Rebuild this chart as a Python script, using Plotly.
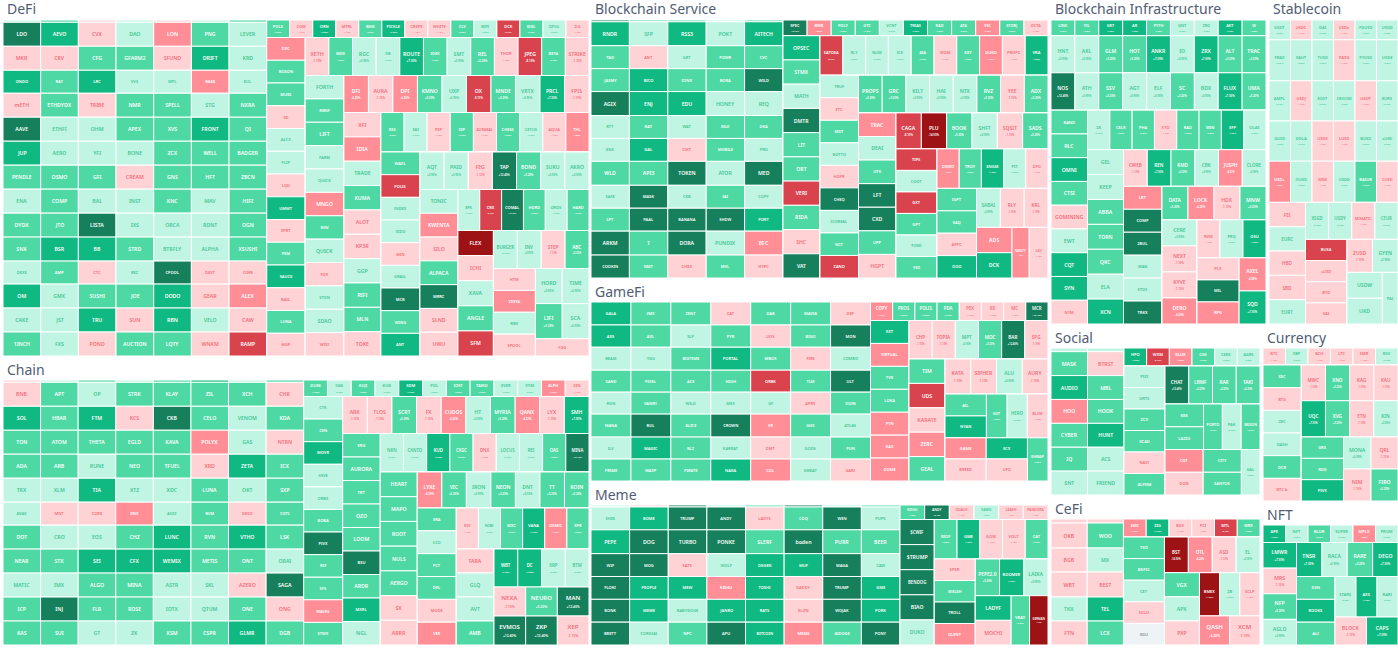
import plotly.graph_objects as go

# ---------- data: symbol/tier, strip by strip in reading order ----------
DEFI_CELLS = [
 "_/P _/M _/q _/P _/q _/P _/M",
 "LDO/D AEVO/G CVX/q DAO/P LON/s PNG/M LEVER/P",
 "MKR/q CRV/q CFG/M GFARM2/M SFUND/q DRIFT/G KRD/P",
 "ONDO/G RAY/M LRC/G VVS/P MPL/P BAKE/s EUL/P",
 "mETH/q ETHDYDX/M TRIBE/q NMR/M SPELL/M STG/P NXRA/M",
 "AAVE/D ETHFI/P OHM/P APEX/M XVS/M FRONT/G QI/M",
 "JUP/G AERO/P YFI/P BONE/P ZCX/M WELL/M BADGER/M",
 "PENDLE/M OSMO/M GFI/M CREAM/q GNS/M HFT/M ZBCN/M",
 "ENA/P COMP/M BAL/P INST/P KNC/M MAV/P HIFI/M",
 "DYDX/M JTO/M LISTA/D IXS/P ORCA/P RDNT/P OGN/M",
 "SNX/M BSR/G BB/G STRD/M BTRFLY/P ALPHA/P XSUSHI/M",
 "DEXE/P AMP/M CTC/q REZ/P CPOOL/D DEST/q CORE/q",
 "OM/G GMX/P SUSHI/M JOE/M DODO/G GEAR/q ALEX/s",
 "CAKE/P JST/P TRU/G SUN/q RBN/G VELO/P CAW/q",
 "1INCH/M FXS/P POND/q AUCTION/M LQTY/M WNXM/q RAMP/R",
 "POLS/M COW/q ORN/G MTRL/q BSW/M PICKLE/G CREPE/q WHITE/q CLV/M BIFI/P DCK/R IDEL/M OPUL/P DG/q",
 "DXC/s BOSON/M MUBI/M SD/q ALCX/P FLIP/P LQD/q UMMT/G XPRT/q PSM/M SAUCE/G BAIL/q LUNA/M MGP/q",
 "XETH/q MDX/M RGC/P XB/P ROUTE/G IDEX/M SMT/P REL/M THOR/q JPEG/R BETA/M STRIKE/q",
 "FORTH/P RBNF/M LIFT/M FARM/P QUICK/P MNGO/s BIW/M QUICK/P FOX/q STON/P SDAO/P WIXI/q",
 "DFI/s AURA/q DPI/s KMNO/M UXP/P OX/R MNDE/M VRTX/P PRCL/G FPIS/q",
 "XFI/q IDIA/s TRADE/P KUMA/M ALOT/q KP3R/q GGP/P RIFI/M MLN/M TOKE/q",
 "RSS/M SAI/P PSP/q ISP/M AURABAL/q CHESS/M CETUS/P AQUA/q THL/s",
 "WAXL/M POLIS/R INDEX/P XIDO/P MIN/q GRAIL/P MCB/D WING/M ANT/G",
 "AQT/P PAID/P FEG/q TAP/D BOND/M SUKU/P AKRO/P",
 "TONIC/P KWENTA/s SILO/q ALPACA/M MRRC/D SLND/q UWU/q",
 "EPS/P CRX/R COMAL/D HORD/M ORDS/P HARD/M",
 "FLEX/X ICHI/q XAVA/P ANGLE/M SFM/R",
 "BURGER/P INV/P STEP/q ABC/M",
 "HTM/q VIDYA/s RBX/P SPOOL/q",
 "HORD/P TIME/P",
 "LIFI/M SCA/P",
 "YGG/q",
]
CHAIN_CELLS = [
 "_/q _/P _/M _/P _/M _/G _/P _/M",
 "BNB/q APT/M OP/P STRK/M KLAY/M ZIL/M XCH/M CHR/q",
 "SOL/G HBAR/M FTM/G KCS/q CKB/D CELO/M VENOM/P KDA/M",
 "TON/M ATOM/M THETA/M EGLD/M KAVA/M POLYX/s GAS/P NTRN/q",
 "ADA/M ARB/M RUNE/P NEO/M TFUEL/M XRD/q ZETA/G ICX/M",
 "TRX/P XLM/P TIA/G XTZ/P XDC/P LUNA/M OKT/P SXP/M",
 "AVAX/P MNT/q CORE/q BNX/s AIOZ/P BVM/M DESO/q COTI/M",
 "DOT/M CRO/P EOS/P CHZ/M LUNC/G RVN/M VTHO/G LSK/M",
 "NEAR/M STX/M SEI/G CFX/G WEMIX/G METIS/M ONT/M ORAI/P",
 "MATIC/P IMX/P ALGO/M MINA/M ASTR/P SKL/P AZERO/q SAGA/D",
 "ICP/M INJ/D FLR/M ROSE/M IOTX/P QTUM/P ONE/M ONG/q",
 "KAS/M SUI/M GT/P ZK/P KSM/M CSPR/M GLMR/G DGB/M",
 "DUSK/M SGB/P KUJI/M KUB/P SDM/G POL/P IOST/M TAIKO/M EVER/P XYM/P ALPH/s XIN/q",
 "CTK/P ZEN/M MOVR/G HIVE/P ORBS/P BOBA/M PIVX/D RIF/M SYS/M WAVES/s STMX/M",
 "ARK/q TLOS/q SCRT/M FX/q CUDOS/s HT/P MYRIA/M QANX/s LYX/q SMH/G",
 "ERG/M AURORA/M TRT/M OZO/M LOOM/M BSU/D ARDR/M MXRL/G NGL/P",
 "NKN/P CANTO/P KUD/G CKSC/M DNX/q LOCUS/P REI/P OAS/M MINA/D",
 "HEART/M MAPO/M ROOT/M NULS/M AERGO/M SX/q ARRR/q",
 "LYXE/s VIC/M IRON/P NEON/M DNT/P TT/M KOIN/M",
 "ERA/M CCD/P PCT/M DEL/M MODE/q VEE/s",
 "KIV/q NIBI/P MXC/M VANA/G OXMIC/s XPR/M",
 "TARA/q GLQ/P AVT/P AMB/M",
 "WBT/G DC/G XRP/P BTM/P",
 "NEXA/q NEURO/M MAN/D",
 "EVMOS/D ZKP/D XEP/q",
]
SERVICE_CELLS = [
 "_/D _/M _/M _/P _/M",
 "RNDR/G SFP/P RSS3/G POKT/P AITECH/G",
 "TAO/M ANT/q GRT/P POWR/M CVC/M",
 "JASMY/M BICO/G IONX/M BORA/M WILD/D",
 "AGIX/D ENJ/G EDU/G HONEY/P REQ/P",
 "RTT/P BAT/M WAT/P MLK/M DKA/M",
 "ENS/P GAL/G CMT/q MOBILE/M PRO/P",
 "WLD/M API3/M TOKEN/D ATOR/P MED/D",
 "SAFE/P MASK/D CKB/P IAI/M COPY/P",
 "LPT/M PAAL/D BANANA/D SHDW/D PORT/G",
 "ARKM/D T/M DORA/D PUNDIX/P BFC/s",
 "COOKIN/D NMT/M CHEX/q MVL/M HYPC/q",
 "SPEC/D BWB/s POLY/M GTC/M VCNT/P TRIAS/G RAD/M ATA/M VSC/s STORJ/M OCTA/q",
 "OPSEC/G STMX/M MATH/P DMTR/D LIT/M ORT/M VERI/R RIDA/M SHC/q VAT/D",
 "SATOSA/R RLY/P NUM/P ICE/P AIA/M WOM/q KEY/M DUKO/s PROPC/q VRA/G",
 "TRUF/P ETC/q MDT/M BOTTO/P HOPR/q CHEQ/D ICOREAL/P NCT/M ZANO/R",
 "PROPS/M GRC/M KILT/P HAI/P NTX/P RVZ/M YEE/q ADX/M",
 "TRAC/s DEAI/P UTK/M LFT/D CXD/D UPP/M HGPT/q",
 "CAGA/R PLU/X BOOK/M SHFT/P SQSIT/q SADS/M",
 "TIPS/R COOT/P GXT/R GPT/M TOMI/P VIO/M",
 "DSWO/s TROY/M SNGM/G PIT/P DFG/q",
 "IGPT/M SAQ/M APPC/q OOO/G",
 "SABAI/P RLY/q KRL/q",
 "ADS/s DCK/G",
 "NASLTY/s",
 "LKI/q",
]
GAMEFI_CELLS = [
 "GALA/G IMX/M ZENT/M CAT/q DAR/M MAVIA/M DEP/q",
 "AXS/G AXL/M SLP/P PYR/M UOS/q BIGO/M MON/D",
 "BEAM/P YGG/P BIGTIME/M PORTAL/G MBOX/M FIRE/q COMBO/P",
 "SAND/M PIXEL/M ACE/M HIGH/M ORBK/R TLM/M ULT/D",
 "RON/P VANRY/M WILD/P MEX/P GF/P APRS/q XION/M",
 "MANA/M BUL/D ALICE/M CROWN/D VR/s GHX/M ATLAS/P",
 "ILV/P MAGIC/G BLZ/M KARRAT/P DMT/q GODS/P PUN/M",
 "PRIME/M WAXP/M PIRATE/M NAKA/G COL/s SWEAT/P GARI/q",
 "COPY/s PROS/M POLIS/M PDA/M PEX/q XX/q MC/q MCR/D",
 "XXT/G VIRTUAL/s TVK/M LOKA/M PYN/s RAX/s DOME/s",
 "CHP/q TOPIA/q MPT/P MOC/M BAR/D SPG/q",
 "TIM/M UDS/R KARATE/q ZERC/s GEAL/M",
 "KATA/q SIPHER/q ALU/P AURY/q",
 "AIL/M NYAN/G",
 "GST/M",
 "HERO/P",
 "BLOK/q",
 "GAME/s SCX/G",
 "BREED/q UFO/q",
 "EHRAP/M",
]
MEME_CELLS = [
 "_/P _/q _/D _/P _/M _/D _/P _/M",
 "SHIB/P BOME/G TRUMP/D ANDY/D LADYS/q COQ/M WEN/D PUPS/P",
 "PEPE/G DOG/D TURBO/D PONKE/D SLERF/M boden/D PURR/M BEER/M",
 "WIF/D MOG/D SATS/q WOLF/P DEGEN/G MUF/G MAGA/D CAW/P",
 "FLOKI/D PEOPLE/G MEW/G KISHU/s TOSHI/G DADDY/q TRUMP/D GME/G",
 "BONK/D MEME/G BABYDOGE/P JANRO/G RATS/G ELON/q WOJAK/D PORK/G",
 "BRETT/D CORGIAI/P NPC/M APU/D BITCOIN/G MEME/s AIDOGE/M PONY/D",
 "KISHU/M ANDY/D QUACK/q SAMO/P LEASH/q PANDORA/q",
 "$CWIF/D $TRUMP/D BENDOG/D BIAO/D DUKO/P",
 "RIOF/M GME/G GOM/q VOLT/q CAT/M",
 "SPER/q WELSH/M TROLL/D QUINT/s",
 "PEPE2.0/M BOOMER/G LAIKA/P",
 "LADYF/G MOCHI/q",
 "VRAY/M",
 "GERMAN/X",
]
INFRA_CELLS = [
 "LINK/M FIL/M GRT/G AR/G PYTH/M QNT/P ZRO/P AKT/G W/M",
 "HNT/P AXL/P GLM/M HOT/M ANKR/G IO/P ZRX/G ALT/M TRAC/M",
 "NOS/D ATH/P SSV/M AGT/P ELF/P SC/M BDX/P FLUX/G UMA/M",
 "BAND/M RLC/M OMNI/G CTSI/M GOMINING/q EWT/P CQT/G SYN/G NYM/q",
 "ZK/P CELR/M PHA/M XYO/q RAD/M WIN/M SFP/G OLAS/P",
 "GEL/P KEEP/P ABBA/M TORN/M QKC/M ELA/P XCN/G",
 "CWEB/q REN/G KMD/M CBK/P JUSPH/s CLORE/P",
 "LRT/s COMP/D 2BUL/D WAN/P STOS/P TRKX/D",
 "DATA/M LOCK/s HDX/q MNW/M",
 "CERE/P NEXT/q KYVE/q DERO/s",
 "RVM/q PRQ/P OSU/G",
 "PLX/q MIL/D RPG/s",
 "AXEL/s SQD/G",
]
STABLE_CELLS = [
 "USDT/P USDC/q DAI/P USDe/q FDUSD/P USDD/P",
 "FRAX/P XAUT/P TUSD/P PAXG/q PYUSD/P USDE/P",
 "AMPL/P USDJ/q EOST/P CRVUSD/P USDP/q EURS/P",
 "GUSD/P DOLA/P USDX/q LUSD/q BUSD/P sUSD/P",
 "USD+/s OUSD/P MIM/q USDD/P BAIUR/M CUSD/q",
 "FEI/q EURC/P HBD/q SBD/q EURT/P",
 "XSGD/P USDY/P MIMATIC/q CEUR/P",
 "BUSA/R sUSD/q BYD/q VAI/q",
 "ZUSD/q GYEN/P",
 "USDW/P UKD/P",
 "PAI/P",
]
SOCIAL_CELLS = [
 "_/P _/P",
 "MASK/M BTRST/q", "AUDIO/G MBL/M", "HOO/s HOOK/M", "CYBER/M HUNT/G", "IQ/M ACS/P", "SNT/P FRIEND/P",
 "HPO/G WXM/R BLUR/s CGS/M CEEK/P AGRS/P",
 "PIXI/P ORTS/P ZCX/M XCAD/M NAVI/q ALPINE/M",
 "CHAT/D LBMF/M RAR/M TAKI/M",
 "KEK/M LAZIO/M",
 "PORTO/M", "PAK/P", "MOON/M",
 "CGT/s DON/q",
 "CITY/M SANTOS/M",
 "GAL/P",
]
CEFI_CELLS = [
 "_/q _/q",
 "OKB/q WOO/M", "BGB/q MX/P", "WBT/q BEST/q", "TKX/P TEL/G", "FTN/q LCX/M",
 "IMX/s ZIG/G BDX/q PCI/q MTL/R WRX/M",
 "TKO/M BNFIC/M CET/P SOLO/q EGU/n",
 "BST/X OTL/s ASD/q EL/P",
 "VGX/M APX/P PXP/q",
 "BMEX/X ZB/P SCLP/q",
 "QASH/s XCM/q",
]
CURRENCY_CELLS = [
 "BTC/q XBP/P BCH/q LTC/q SMR/q BSV/P",
 "XEC/M BTG/q ZEC/P DASH/P DCR/M BTC.b/q",
 "MWC/q XNO/M KAG/q KAU/q",
 "UQC/G XVG/M ETN/q KIN/P",
 "GRS/M RDD/M PIVX/G",
 "MONA/P NIM/q",
 "QRL/q FIRO/M",
]
NFT_CELLS = [
 "APE/G NFT/P BLUR/M SUPER/P MPLX/s PROM/P",
 "LMWR/G MRS/q NFP/M AGLD/P",
 "TNSR/G RACA/P RARE/M DEGO/G",
 "DSN/M ROOKS/G ALI/M",
 "STARS/P AXS/G RARI/P",
 "BLOCK/q CAPS/G",
]
# one estimated 24h move per tier, shown in the cells that carry a second line
TIER_CHANGE = {"D": "+12.40%", "G": "+7.30%", "M": "+3.20%", "P": "+0.90%", "n": "0.00%",
               "q": "-1.10%", "s": "-4.20%", "R": "-8.10%", "X": "-14.50%"}

# ---------- style ----------
FILL = {"D": "#15805B", "G": "#10B981", "M": "#4ED8A4", "P": "#C1F5E3", "n": "#EEF3F6",
        "q": "#FFD3D6", "s": "#FF8E97", "R": "#D9434E", "X": "#9C1215"}
INK = {"D": "#FFFFFF", "G": "#FFFFFF", "M": "#FFFFFF", "P": "#3FC795", "n": "#8A9199",
       "q": "#F26D7B", "s": "#FFFFFF", "R": "#FFFFFF", "X": "#FFFFFF"}
B, S, A, C, E, F = 5.2, 4.0, 4.6, 5.1, 4.3, 6.0
FONT = "Noto Sans"

# ---------- layout grammar (sizes are weights along the parent's split) ----------
def rows(size, *kids): return ("rows", size, kids)
def cols(size, *kids): return ("cols", size, kids)
def hs(size, font=B, sub=False): return ("hs", size, font, sub)
def vs(size, font=S, sub=False): return ("vs", size, font, sub)
def spiral(size, *items):
    """Each strip is cut from the remaining area; the last item fills what is left."""
    rest = items[-1]
    rest = (rest[0], None) + tuple(rest[2:])
    for item in reversed(items[:-1]):
        kind = "rows" if item[0] == "hs" else "cols"
        rest = (kind, None, (item, rest))
    return (rest[0], size, rest[2])

T = True
DEFI_LAYOUT = cols(0,
    rows(263.5, hs(2.3), hs(24), hs(24), hs(23, S), hs(24), hs(24), hs(24), hs(24), hs(24), hs(24), hs(24), hs(23, S), hs(24), hs(24), hs(24)),
    spiral(322, hs(17.5, S, T), vs(38.5), hs(38, [B,S,B,S,B,S,B,B,S,B,S,B], T), vs(38.7, [B,S,B,S,S,B,S,B,S,S,B,S]),
           hs(37, C, T), vs(37, B), hs(39.5, S, T), vs(39), hs(37.5, C, T), vs(38, [B,B,B,B,S,B,B]),
           hs(41, S, T), vs(35.5, B), hs(38, A, T), vs(42),
           rows(0, hs(34.5, B, T), hs(34.5, B, T), hs(17, S))))
CHAIN_LAYOUT = cols(0,
    rows(300.7, hs(2.3), hs(24), hs(24), hs(24), hs(24), hs(24), hs(23, S), hs(24), hs(24), hs(24), hs(24), hs(24)),
    spiral(285.3, hs(16.5, A, T), vs(39), hs(37, C, T), vs(37.6, [S,B,S,B,B,S,B,S,B]), hs(38.5, E, T), vs(37, B),
           hs(36, C, T), vs(39), hs(41, S, T), vs(37.7, B),
           rows(0, hs(38, E, T), hs(29, F, T), hs(29, F, T))))
SERVICE_LAYOUT = cols(0,
    rows(192, hs(1.8), hs(24), hs(23, S), hs(23, S), hs(24), hs(23, S), hs(23, S), hs(24), hs(23, S), hs(23, S), hs(24), hs(23, S)),
    spiral(265, hs(15.7, C, T), vs(37, C), hs(39.5, S, T), vs(38.5), hs(37.7, C, T), vs(37.5, [B,B,S,B,B,S,B]),
           hs(36, C, T), vs(41), hs(39.5, S, T), vs(39.5), hs(39, A, T),
           cols(0, vs(34, B), vs(16.5, S, T), vs(18, S, T))))
GAMEFI_LAYOUT = cols(0,
    rows(279.5, hs(23, S), hs(22.3, S), hs(23, S), hs(22, S), hs(22, S), hs(23, S), hs(22, S), hs(22, S)),
    spiral(177.5, hs(18.5, E, T), vs(38.5), hs(38.5, A, T), vs(36, B),
           rows(0, hs(34.5, C, T),
                cols(43, vs(40), vs(20, S, T), vs(19.5, E, T), vs(20, S, T)),
                cols(42.5, rows(80, hs(20.5, S), hs(21.5, S)), vs(20, S, T)))))
MEME_LAYOUT = cols(0,
    rows(309, hs(2), hs(23, S), hs(24), hs(23, S), hs(23, S), hs(23, S), hs(23, S)),
    spiral(148, hs(14.5, C, T), vs(34.3, [E,C,E,C,C]), hs(39.5, S, T), vs(41), hs(36.7, C, T),
           cols(0, vs(35, B), vs(18, S, T), vs(18, S, T))))
INFRA_LAYOUT = rows(0,
    hs(15.7, S, T), hs(37, C, T), hs(37.3, C, T),
    spiral(213.5, vs(36.5, [S,B,B,B,B,B,B,B,S]), hs(39.5, S, T), vs(36, B), hs(36.7, A, T), vs(38.5),
           hs(33.5, C, T), vs(35, C, T), hs(38, S, T),
           cols(0, vs(41.5), vs(26.5, C, T))))
STABLE_LAYOUT = rows(0,
    hs(19.7, S, T), hs(40.8, S, T), hs(40, S, T), hs(40, S, T), hs(41, S, T),
    spiral(121, vs(36.5, A), hs(37, E, T), vs(41.5), hs(33, C, T),
           cols(0, vs(35, C), vs(15.5))))
SOCIAL_LAYOUT = cols(0,
    rows(73, hs(3.7), hs(24), hs(24), hs(24), hs(24), hs(24), hs(24)),
    spiral(136, hs(18, S, T), vs(41),
           rows(0, hs(38, A, T),
                cols(45.5, vs(37.5), vs(18.3, S, T), vs(18.3, S, T), vs(18.3, S, T)),
                cols(45.5, vs(37.5), vs(37.5), vs(18.3, S, T)))))
CEFI_LAYOUT = cols(0,
    rows(72.7, hs(4), hs(25), hs(24), hs(25), hs(24), hs(24)),
    spiral(137, hs(18, S, T), vs(41), hs(35.7, A, T), vs(35, C),
           rows(0, hs(43, S, T), hs(29, F, T))))
CURRENCY_LAYOUT = rows(0,
    hs(17, S, T),
    spiral(136, vs(38.3), hs(35.7, A, T), hs(36.3, A, T),
           cols(0, vs(41.5), vs(27, C, T), vs(26.5, C, T))))
NFT_LAYOUT = rows(0,
    hs(17.5, S, T),
    spiral(102.5, vs(33.5, C, T), hs(34, C, T), vs(38.5),
           rows(0, hs(40.5, S, T), hs(28, C, T))))

# title, title x, title y, box (x0, y0, x1, y1), cells, layout
SECTORS = [
 ("DeFi", 5, 8, (3, 20, 589, 356), DEFI_CELLS, DEFI_LAYOUT),
 ("Chain", 5, 369, (3, 380, 589, 645), CHAIN_CELLS, CHAIN_LAYOUT),
 ("Blockchain Service", 593, 8, (591, 20, 1048, 278), SERVICE_CELLS, SERVICE_LAYOUT),
 ("GameFi", 593, 291, (591, 302, 1048, 481), GAMEFI_CELLS, GAMEFI_LAYOUT),
 ("Meme", 593, 494, (591, 505, 1048, 645), MEME_CELLS, MEME_LAYOUT),
 ("Blockchain Infrastructure", 1053, 8, (1051, 20, 1266, 324), INFRA_CELLS, INFRA_LAYOUT),
 ("Stablecoin", 1271, 8, (1269, 20, 1398, 324), STABLE_CELLS, STABLE_LAYOUT),
 ("Social", 1053, 337, (1051, 348, 1260, 495), SOCIAL_CELLS, SOCIAL_LAYOUT),
 ("CeFi", 1053, 508, (1051, 519, 1260, 645), CEFI_CELLS, CEFI_LAYOUT),
 ("Currency", 1265, 337, (1263, 348, 1398, 501), CURRENCY_CELLS, CURRENCY_LAYOUT),
 ("NFT", 1265, 514, (1263, 525, 1398, 645), NFT_CELLS, NFT_LAYOUT),
]
PAGE_W, PAGE_H = 1398, 648


def sector_trace(name, box, cells, layout):
    x0, y0, x1, y1 = box
    strips = iter(cells)
    ids, parents, labels, texts, values, fills, inks, sizes = [], [], [], [], [], [], [], []
    serial = [0]

    def node(parent, text="", label="", value=0, fill="#FFFFFF", ink="#FFFFFF", size=1):
        serial[0] += 1
        nid = f"{name}-{serial[0]}"
        ids.append(nid); parents.append(parent); labels.append(label or nid); texts.append(text)
        values.append(value); fills.append(fill); inks.append(ink); sizes.append(size)
        return nid

    # depth parity: even depth splits along x, odd depth splits along y
    def holder(parent, depth, want_x):
        if (depth % 2 == 0) == want_x:
            return parent, depth
        return node(parent), depth + 1

    def build(spec, parent, depth, W, H):
        kind = spec[0]
        if kind in ("rows", "cols"):
            want_x = kind == "cols"
            here, d = holder(parent, depth, want_x)
            kids = spec[2]
            dim = W if want_x else H
            known = sum(k[1] for k in kids if k[1] is not None)
            weights = [k[1] if k[1] is not None else max(dim - known, 1) for k in kids]
            total = sum(weights)
            for k, wt in zip(kids, weights):
                share = wt / total
                kw, kh = (W * share, H) if want_x else (W, H * share)
                kid_parent = node(here)
                build(k, kid_parent, d + 1, kw, kh)
        else:
            want_x = kind == "hs"  # a horizontal strip lays its cells along x
            here, d = holder(parent, depth, want_x)
            tokens = next(strips).split()
            font, sub = spec[2], spec[3]
            cell_value = W * H / len(tokens)
            for i, tok in enumerate(tokens):
                sym, tier = tok.rsplit("/", 1)
                f = font[i] if isinstance(font, list) else font
                text = "" if sym == "_" else sym
                if sub and text:
                    text += f"<br><span style='font-size:{f*0.55:.1f}px'>{TIER_CHANGE[tier]}</span>"
                node(here, text, sym if sym != "_" else "", cell_value, FILL[tier], INK[tier], f)

    root = node("", label=name)
    build(layout, root, 0, x1 - x0, y1 - y0)
    assert next(strips, None) is None, name
    return go.Treemap(
        ids=ids, parents=parents, labels=labels, text=texts, values=values,
        branchvalues="remainder", sort=False, textinfo="text",
        textposition="middle center",
        textfont=dict(family=FONT, size=sizes, color=inks, weight=600),
        insidetextfont=dict(family=FONT, size=sizes, color=inks, weight=600),
        marker=dict(colors=fills, line=dict(color="#FFFFFF", width=1), depthfade=False,
                    pad=dict(t=0, l=0, r=0, b=0)),
        tiling=dict(packing="slice-dice", pad=0),
        pathbar=dict(visible=False), hoverinfo="label",
        domain=dict(x=[x0 / PAGE_W, x1 / PAGE_W], y=[1 - y1 / PAGE_H, 1 - y0 / PAGE_H]),
    )


fig = go.Figure()
annotations = []
for title, tx, ty, box, cells, layout in SECTORS:
    fig.add_trace(sector_trace(title, box, cells, layout))
    annotations.append(dict(text=title, xref="paper", yref="paper", x=tx / PAGE_W, y=1 - ty / PAGE_H,
                            xanchor="left", yanchor="middle", showarrow=False,
                            font=dict(family=FONT, size=14, color="#515C74")))

fig.update_layout(width=PAGE_W, height=PAGE_H, margin=dict(l=0, r=0, t=0, b=0),
                  paper_bgcolor="#FFFFFF", annotations=annotations, showlegend=False)
fig.write_html("out.html", config={"displayModeBar": False},
               post_script="document.body.style.margin='0';")
